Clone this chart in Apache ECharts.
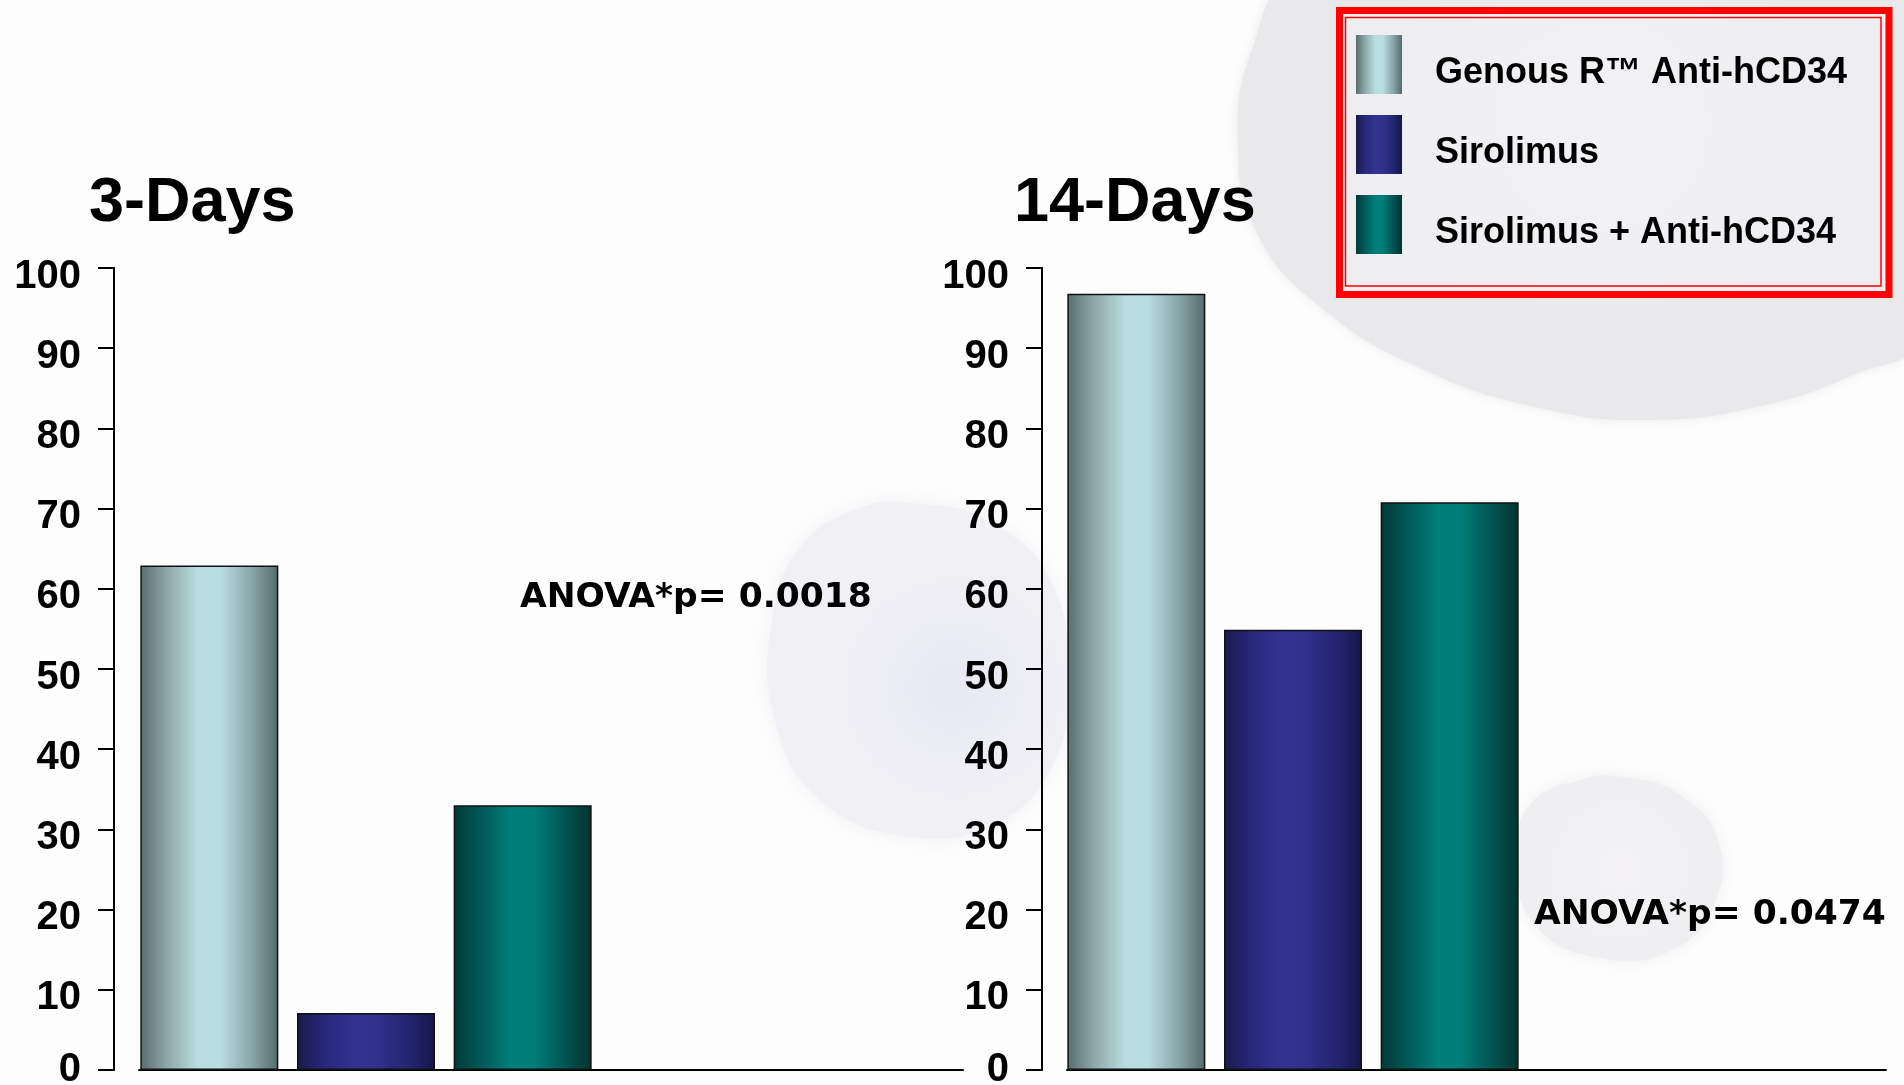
<!DOCTYPE html>
<html>
<head>
<meta charset="utf-8">
<title>Anti-hCD34 / Sirolimus</title>
<script src="https://cdn.jsdelivr.net/npm/echarts@6/dist/echarts.min.js"></script>
<style>
  html, body { margin: 0; padding: 0; background: #fdfdfd; }
  #chart { width: 1904px; height: 1085px; }
</style>
</head>
<body>
<div id="chart"></div>
<script>
// Treatment groups (legend entries)
const groups = ['Genous R™ Anti-hCD34', 'Sirolimus', 'Sirolimus + Anti-hCD34'];
// Panel titles and values per group
const panelTitles = ['3-Days', '14-Days'];
const day3Values = [62.9, 7.1, 33.0];
const day14Values = [96.8, 54.9, 70.8];
// ANOVA p-values printed on each panel
const pValues = ['0.0018', '0.0474'];
// Y axis scale
const yMin = 0, yMax = 100, yStep = 10;

// Cylinder-like horizontal shading for each group
const shades = [
  ['#5a6d6f', '#8fa9ab', '#b9dee1', '#b9dee1', '#86a2a4', '#566a6c'],
  ['#1a1a4c', '#27287a', '#32338f', '#30318b', '#232470', '#16164a'],
  ['#003a38', '#005a57', '#007f7a', '#007d78', '#00524f', '#003331']
];
function shade(c) {
  return {
    type: 'linear', x: 0, y: 0, x2: 1, y2: 0,
    colorStops: [
      { offset: 0, color: c[0] },
      { offset: 0.2, color: c[1] },
      { offset: 0.42, color: c[2] },
      { offset: 0.58, color: c[3] },
      { offset: 0.82, color: c[4] },
      { offset: 1, color: c[5] }
    ]
  };
}

const FONT = '"Liberation Sans", Arial, sans-serif';
const plotTop = 268, plotBottom = 15;
const tickLabel = { color: '#000', fontSize: 40, fontWeight: 'bold', fontFamily: FONT };

// Panel geometry: bar grid (3 slots) and frame grid (axes)
const panels = [
  { values: day3Values,  barLeft: 131, barWidth: 470, frameLeft: 139, frameWidth: 824, titleLeft: 89 },
  { values: day14Values, barLeft: 1058, barWidth: 470, frameLeft: 1067, frameWidth: 819, titleLeft: 1014 }
];

const grid = [], xAxis = [], yAxis = [], series = [];
panels.forEach((p, i) => {
  // frame grid: y axis with ticks and the long baseline
  grid.push({ left: p.frameLeft, width: p.frameWidth, top: plotTop, bottom: plotBottom,
              outerBoundsMode: 'none', containLabel: false });
  xAxis.push({
    gridIndex: grid.length - 1, type: 'value', min: 0, max: 1,
    axisLine: { show: true, onZero: false, lineStyle: { color: '#000', width: 2 } },
    axisTick: { show: false }, axisLabel: { show: false }, splitLine: { show: false }
  });
  yAxis.push({
    gridIndex: grid.length - 1, type: 'value', min: yMin, max: yMax, interval: yStep,
    offset: 25,
    axisLine: { show: true, onZero: false, lineStyle: { color: '#000', width: 2 } },
    axisTick: { show: true, length: 16, lineStyle: { color: '#000', width: 2 } },
    axisLabel: {
      margin: 33,
      formatter: v => (v === 0 ? '{z|' : '{v|') + v + '}',
      rich: {
        v: Object.assign({ padding: [17, 0, 0, 0] }, tickLabel),
        z: Object.assign({ padding: [0, 0, 0, 0] }, tickLabel)
      }
    },
    splitLine: { show: false }
  });
  // bar grid
  grid.push({ left: p.barLeft, width: p.barWidth, top: plotTop, bottom: plotBottom,
              outerBoundsMode: 'none', containLabel: false });
  const gi = grid.length - 1;
  xAxis.push({ gridIndex: gi, type: 'category', data: groups, show: false });
  yAxis.push({ gridIndex: gi, type: 'value', min: yMin, max: yMax, show: false });
  groups.forEach((g, k) => {
    series.push({
      name: g,
      type: 'bar',
      xAxisIndex: xAxis.length - 1,
      yAxisIndex: yAxis.length - 1,
      stack: 'panel' + i,
      barWidth: 138,
      data: groups.map((_, j) => (j === k ? p.values[k] : '-')),
      itemStyle: { color: shade(shades[k]), borderColor: '#111', borderWidth: 1.5 },
      z: 3
    });
  });
});

// Soft cell-shaped backdrops
function blob(points, colorIn, colorOut, cx, cy, blur) {
  return {
    type: 'polygon', silent: true, z: -10,
    shape: { points: points, smooth: 0.45 },
    style: {
      fill: { type: 'radial', x: cx, y: cy, r: 0.65, colorStops: [
        { offset: 0, color: colorIn }, { offset: 0.7, color: colorOut }, { offset: 1, color: colorOut } ] },
      shadowBlur: blur, shadowColor: colorOut
    }
  };
}

const graphic = [
  blob([[1300, -20], [1252, 50], [1238, 150], [1258, 235], [1318, 305], [1420, 368], [1540, 408],
        [1650, 420], [1765, 405], [1860, 372], [1915, 340], [1915, -20]],
       '#f1f1f4', '#e9e9ec', 0.5, 0.4, 10),
  blob([[860, 508], [800, 548], [772, 620], [775, 720], [820, 800], [905, 836], [990, 826],
        [1050, 770], [1068, 680], [1050, 580], [990, 522], [920, 504]],
       '#e8e8f2', '#f1f1f5', 0.62, 0.55, 18),
  blob([[1580, 780], [1530, 805], [1517, 860], [1535, 925], [1600, 958], [1672, 950],
        [1714, 905], [1718, 840], [1680, 795], [1630, 778]],
       '#f5f3f6', '#efeff2', 0.5, 0.5, 14),
  // legend frame
  { type: 'rect', silent: true, z: 1,
    shape: { x: 1339.5, y: 10.5, width: 549.5, height: 284 },
    style: { fill: 'rgba(244,244,248,0.5)', stroke: '#ff0000', lineWidth: 7 } },
  { type: 'rect', silent: true, z: 1,
    shape: { x: 1345.5, y: 17.5, width: 535.5, height: 268.5 },
    style: { fill: null, stroke: '#ff0000', lineWidth: 1.5 } },
  // ANOVA annotations
  { type: 'text', z: 5, left: 520, top: 581,
    style: { text: 'ANOVA*p= ' + pValues[0], fill: '#000', font: 'bold 34.5px "DejaVu Sans", Verdana, sans-serif' } },
  { type: 'text', z: 5, left: 1534, top: 898,
    style: { text: 'ANOVA*p= ' + pValues[1], fill: '#000', font: 'bold 34.5px "DejaVu Sans", Verdana, sans-serif' } }
];

const chart = echarts.init(document.getElementById('chart'), null, { renderer: 'canvas' });
chart.setOption({
  backgroundColor: '#fdfdfd',
  animation: false,
  title: panels.map((p, i) => ({
    text: panelTitles[i], left: p.titleLeft, top: 172, padding: 0,
    textStyle: { fontSize: 63, fontWeight: 'bold', color: '#000', fontFamily: FONT }
  })),
  legend: {
    data: groups, orient: 'vertical', left: 1356, top: 35, padding: 0,
    itemWidth: 46, itemHeight: 59, itemGap: 21, icon: 'rect',
    itemStyle: { borderWidth: 0 },
    formatter: name => '{t|' + name + '}',
    textStyle: {
      rich: { t: { fontSize: 36, fontWeight: 'bold', color: '#000', fontFamily: FONT, padding: [18, 0, 0, 28] } }
    }
  },
  grid: grid,
  xAxis: xAxis,
  yAxis: yAxis,
  series: series,
  graphic: graphic
});
</script>
</body>
</html>
